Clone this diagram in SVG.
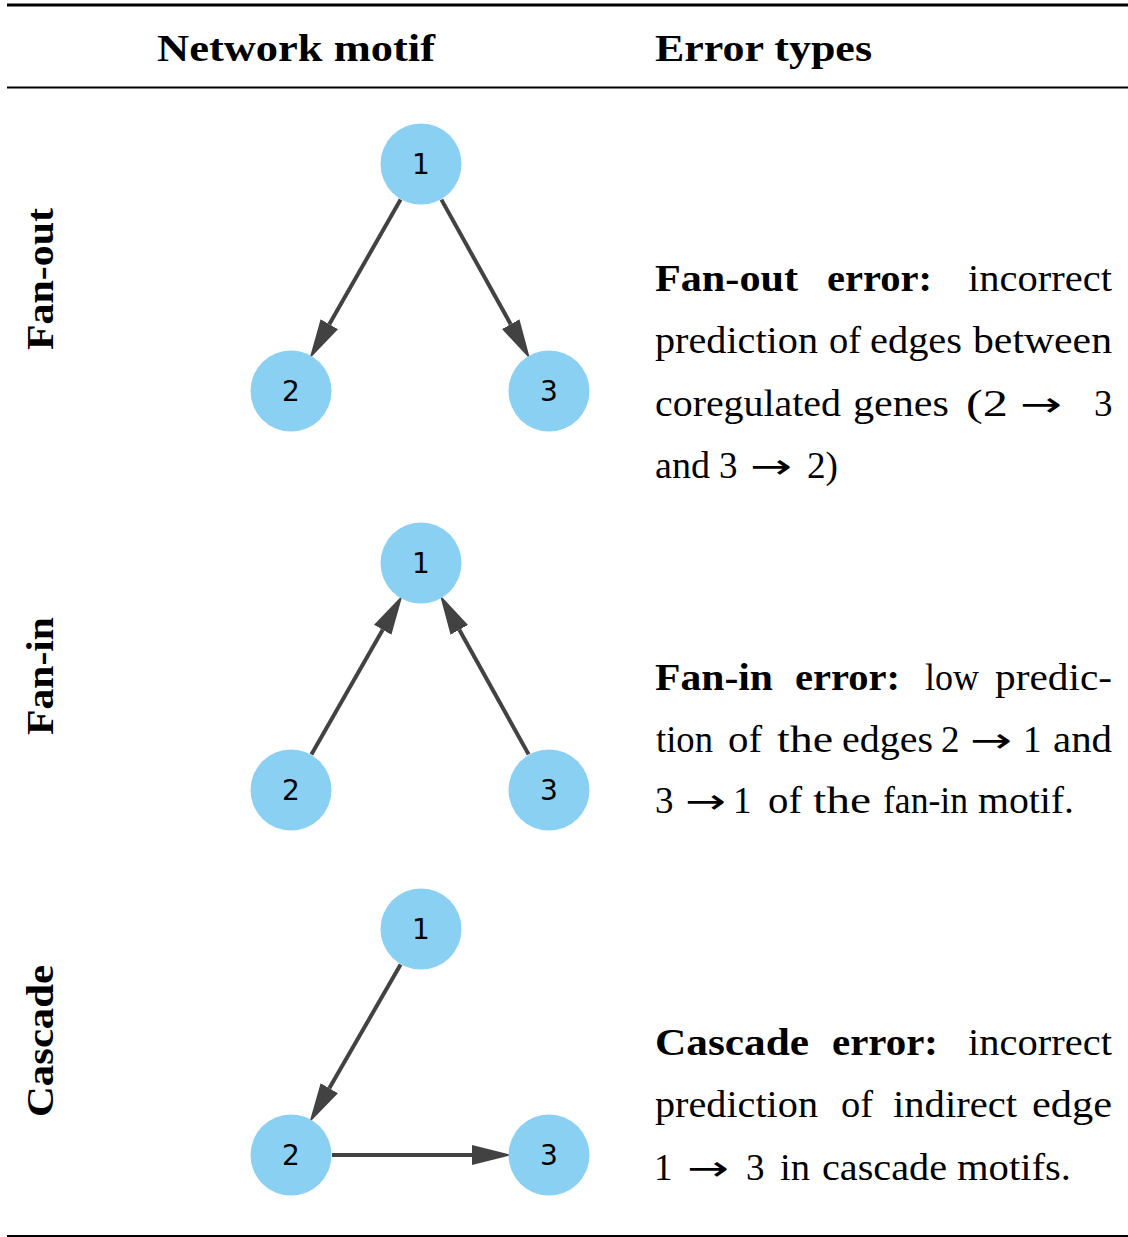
<svg xmlns="http://www.w3.org/2000/svg" width="1128" height="1237" viewBox="0 0 1128 1237">
<style>
.rule{stroke:#000;}
.node circle{fill:#89d0f2;}
.node text{font-family:"DejaVu Sans",sans-serif;font-size:28px;fill:#000;text-anchor:middle;}
.edge{stroke:#424242;stroke-width:4;fill:none;}
.hdr{font-family:"Liberation Serif",serif;font-weight:bold;font-size:38px;fill:#000;}
.row{font-family:"Liberation Serif",serif;font-weight:bold;font-size:38px;fill:#000;text-anchor:middle;}
.body text{font-family:"Liberation Serif",serif;font-size:37px;fill:#000;}
.body text.b{font-weight:bold;}
.body text.ar{font-family:"DejaVu Sans",sans-serif;font-size:34px;}
</style>
<defs>
<marker id="arr" markerUnits="userSpaceOnUse" markerWidth="40" markerHeight="24" refX="0" refY="9" orient="auto" viewBox="0 0 36 18">
<path d="M0,0 L36,9 L0,18 z" fill="#424242"/>
</marker>
</defs>
<rect width="1128" height="1237" fill="#fff"/>
<g id="rules">
<line class="rule" x1="7" y1="5" x2="1128" y2="5" stroke-width="3"/>
<line class="rule" x1="7" y1="87.5" x2="1128" y2="87.5" stroke-width="2"/>
<line class="rule" x1="7" y1="1236" x2="1128" y2="1236" stroke-width="2"/>
</g>
<g id="headers">
<text class="hdr" x="157" y="61" textLength="278" lengthAdjust="spacingAndGlyphs">Network motif</text>
<text class="hdr" x="655" y="61" textLength="217" lengthAdjust="spacingAndGlyphs">Error types</text>
</g>
<g id="row-labels">
<text class="row" transform="translate(53,279) rotate(-90)" textLength="142" lengthAdjust="spacingAndGlyphs">Fan-out</text>
<text class="row" transform="translate(53,676) rotate(-90)" textLength="118" lengthAdjust="spacingAndGlyphs">Fan-in</text>
<text class="row" transform="translate(53,1041) rotate(-90)" textLength="152" lengthAdjust="spacingAndGlyphs">Cascade</text>
</g>
<g id="connectors">
<line class="edge" x1="400.6" y1="199.6" x2="329.3" y2="324.2" marker-end="url(#arr)"/>
<line class="edge" x1="441.4" y1="199.6" x2="510.7" y2="324.2" marker-end="url(#arr)"/>
<line class="edge" x1="311.4" y1="754.4" x2="382.7" y2="629.8" marker-end="url(#arr)"/>
<line class="edge" x1="528.6" y1="754.4" x2="459.3" y2="629.8" marker-end="url(#arr)"/>
<line class="edge" x1="400.6" y1="964.6" x2="329.3" y2="1088.2" marker-end="url(#arr)"/>
<line class="edge" x1="332" y1="1155" x2="472" y2="1155" marker-end="url(#arr)"/>
</g>
<g id="fanout-1" class="node"><circle cx="421" cy="164" r="40.5"/><text x="421" y="174">1</text></g>
<g id="fanout-2" class="node"><circle cx="291" cy="391" r="40.5"/><text x="291" y="401">2</text></g>
<g id="fanout-3" class="node"><circle cx="549" cy="391" r="40.5"/><text x="549" y="401">3</text></g>
<g id="fanin-1" class="node"><circle cx="421" cy="563" r="40.5"/><text x="421" y="573">1</text></g>
<g id="fanin-2" class="node"><circle cx="291" cy="790" r="40.5"/><text x="291" y="800">2</text></g>
<g id="fanin-3" class="node"><circle cx="549" cy="790" r="40.5"/><text x="549" y="800">3</text></g>
<g id="cascade-1" class="node"><circle cx="421" cy="929" r="40.5"/><text x="421" y="939">1</text></g>
<g id="cascade-2" class="node"><circle cx="291" cy="1155" r="40.5"/><text x="291" y="1165">2</text></g>
<g id="cascade-3" class="node"><circle cx="549" cy="1155" r="40.5"/><text x="549" y="1165">3</text></g>
<g id="text-fanout" class="body">
<text class="b" x="655" y="291" textLength="143" lengthAdjust="spacingAndGlyphs">Fan-out</text>
<text class="b" x="827" y="291" textLength="105" lengthAdjust="spacingAndGlyphs">error:</text>
<text x="968" y="291" textLength="144" lengthAdjust="spacingAndGlyphs">incorrect</text>
<text x="655" y="353" textLength="163" lengthAdjust="spacingAndGlyphs">prediction</text>
<text x="829" y="353" textLength="32" lengthAdjust="spacingAndGlyphs">of</text>
<text x="870" y="353" textLength="92" lengthAdjust="spacingAndGlyphs">edges</text>
<text x="973" y="353" textLength="139" lengthAdjust="spacingAndGlyphs">between</text>
<text x="655" y="416" textLength="186" lengthAdjust="spacingAndGlyphs">coregulated</text>
<text x="853" y="416" textLength="96" lengthAdjust="spacingAndGlyphs">genes</text>
<text x="966" y="416" textLength="42" lengthAdjust="spacingAndGlyphs">(2</text>
<text class="ar" x="1020" y="416" textLength="42" lengthAdjust="spacingAndGlyphs">→</text>
<text x="1094" y="416">3</text>
<text x="655" y="478" textLength="55" lengthAdjust="spacingAndGlyphs">and</text>
<text x="719" y="478">3</text>
<text class="ar" x="750" y="478" textLength="42" lengthAdjust="spacingAndGlyphs">→</text>
<text x="807" y="478" textLength="31" lengthAdjust="spacingAndGlyphs">2)</text>
</g>
<g id="text-fanin" class="body">
<text class="b" x="655" y="690" textLength="118" lengthAdjust="spacingAndGlyphs">Fan-in</text>
<text class="b" x="795" y="690" textLength="105" lengthAdjust="spacingAndGlyphs">error:</text>
<text x="925" y="690" textLength="54" lengthAdjust="spacingAndGlyphs">low</text>
<text x="995" y="690" textLength="117" lengthAdjust="spacingAndGlyphs">predic-</text>
<text x="656" y="752" textLength="57" lengthAdjust="spacingAndGlyphs">tion</text>
<text x="728" y="752" textLength="34" lengthAdjust="spacingAndGlyphs">of</text>
<text x="777" y="752" textLength="56" lengthAdjust="spacingAndGlyphs">the</text>
<text x="842" y="752" textLength="91" lengthAdjust="spacingAndGlyphs">edges</text>
<text x="941" y="752">2</text>
<text class="ar" x="970" y="752" textLength="42" lengthAdjust="spacingAndGlyphs">→</text>
<text x="1023" y="752">1</text>
<text x="1053" y="752" textLength="59" lengthAdjust="spacingAndGlyphs">and</text>
<text x="655" y="813">3</text>
<text class="ar" x="685" y="813" textLength="41" lengthAdjust="spacingAndGlyphs">→</text>
<text x="733" y="813">1</text>
<text x="768" y="813" textLength="34" lengthAdjust="spacingAndGlyphs">of</text>
<text x="813" y="813" textLength="58" lengthAdjust="spacingAndGlyphs">the</text>
<text x="883" y="813" textLength="85" lengthAdjust="spacingAndGlyphs">fan-in</text>
<text x="978" y="813" textLength="96" lengthAdjust="spacingAndGlyphs">motif.</text>
</g>
<g id="text-cascade" class="body">
<text class="b" x="655" y="1055" textLength="154" lengthAdjust="spacingAndGlyphs">Cascade</text>
<text class="b" x="832" y="1055" textLength="106" lengthAdjust="spacingAndGlyphs">error:</text>
<text x="968" y="1055" textLength="144" lengthAdjust="spacingAndGlyphs">incorrect</text>
<text x="655" y="1117" textLength="163" lengthAdjust="spacingAndGlyphs">prediction</text>
<text x="841" y="1117" textLength="32" lengthAdjust="spacingAndGlyphs">of</text>
<text x="893" y="1117" textLength="124" lengthAdjust="spacingAndGlyphs">indirect</text>
<text x="1032" y="1117" textLength="80" lengthAdjust="spacingAndGlyphs">edge</text>
<text x="654" y="1180">1</text>
<text class="ar" x="687" y="1180" textLength="42" lengthAdjust="spacingAndGlyphs">→</text>
<text x="746" y="1180">3</text>
<text x="780" y="1180" textLength="30" lengthAdjust="spacingAndGlyphs">in</text>
<text x="822" y="1180" textLength="125" lengthAdjust="spacingAndGlyphs">cascade</text>
<text x="957" y="1180" textLength="114" lengthAdjust="spacingAndGlyphs">motifs.</text>
</g>
</svg>
